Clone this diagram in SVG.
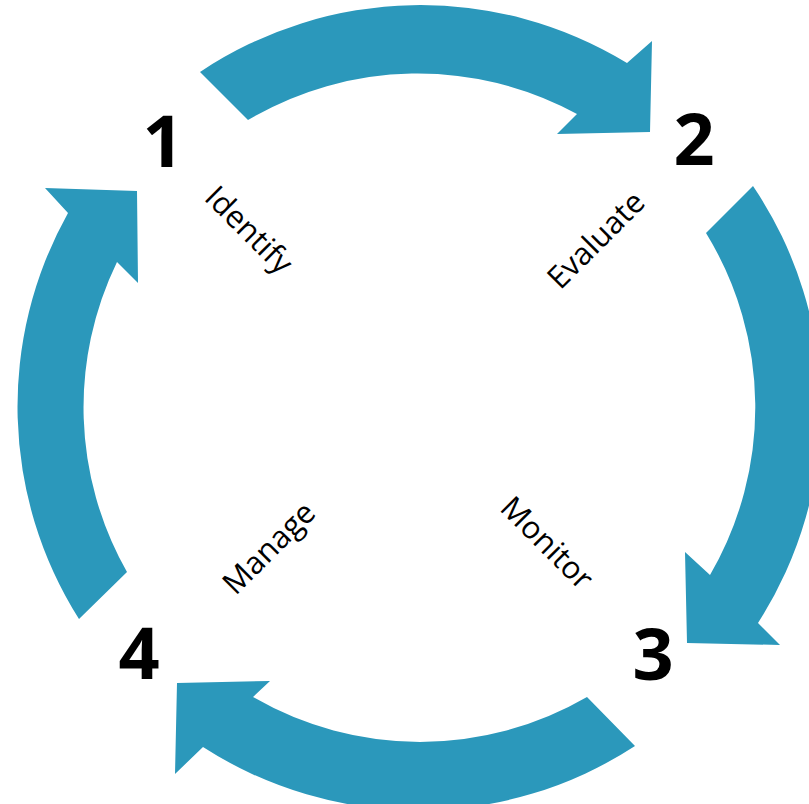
<svg xmlns="http://www.w3.org/2000/svg" width="809" height="804" viewBox="0 0 809 804">
<style>
.arr{fill:#2B98BB;stroke:none}
.num{font-family:"Open Sans","Liberation Sans",sans-serif;font-weight:bold;font-size:72px;fill:#000;text-anchor:middle}
.lbl{font-family:"Open Sans","Liberation Sans",sans-serif;font-size:31px;fill:#000;text-anchor:middle;dominant-baseline:central}
</style>
<rect width="809" height="804" fill="#fff"/>
<g id="connectors">
<path class="arr" d="M200,72 A397,397 0 0 1 627,63 L652,41 L650,132 L557,134 L577,114 A333,333 0 0 0 248,120 Z"/>
<path class="arr" d="M753,186 A397,397 0 0 1 758,623 L780,645 L687,643 L685,552 L710,575 A333,333 0 0 0 706,233 Z"/>
<path class="arr" d="M635,746 A397,397 0 0 1 203,747 L175,774 L177,683 L270,681 L253,697 A333,333 0 0 0 587,697 Z"/>
<path class="arr" d="M79,619 A397,397 0 0 1 68,213 L45,188 L137,191 L138,283 L117,262 A333,333 0 0 0 127,572 Z"/>
</g>
<g id="step1">
<text class="num" x="163" y="167">1</text>
<text class="lbl" transform="translate(250,229) rotate(45)">Identify</text>
</g>
<g id="step2">
<text class="num" x="694" y="165">2</text>
<text class="lbl" transform="translate(595,239) rotate(-45)">Evaluate</text>
</g>
<g id="step3">
<text class="num" x="653" y="680">3</text>
<text class="lbl" transform="translate(548,542) rotate(45)">Monitor</text>
</g>
<g id="step4">
<text class="num" x="139" y="679">4</text>
<text class="lbl" transform="translate(268,547) rotate(-45)">Manage</text>
</g>
</svg>
